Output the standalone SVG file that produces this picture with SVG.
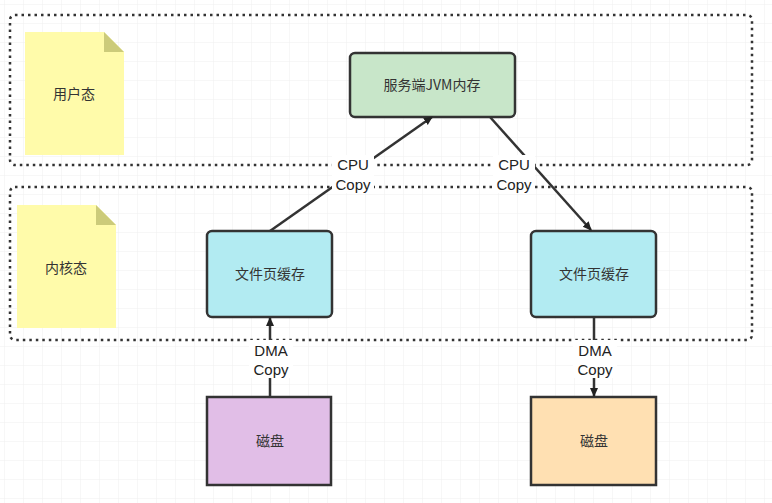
<svg xmlns="http://www.w3.org/2000/svg" width="772" height="503" viewBox="0 0 772 503">
<defs>
<pattern id="g" width="19" height="19" patternUnits="userSpaceOnUse" x="5" y="5"><path d="M19 0V19H0" fill="none" stroke="#efefef" stroke-width="1"/></pattern>
<marker id="a" markerWidth="10" markerHeight="10" refX="8" refY="5" orient="auto" markerUnits="userSpaceOnUse"><path d="M0 1L9 5L0 9Z" fill="#222"/></marker>
<style>
.z{fill:none;stroke:#333;stroke-width:2.5;stroke-dasharray:2.5 4}
.n{stroke:#333;stroke-width:2.5}
.t{font-family:"Noto Sans CJK SC","Liberation Sans",sans-serif;font-size:14px;fill:#333;text-anchor:middle}
.l{font-family:"Liberation Sans","Noto Sans CJK SC",sans-serif;font-size:15px;fill:#222;text-anchor:middle}
.e{stroke:#333;stroke-width:2.5;fill:none;marker-end:url(#a)}
</style>
</defs>
<rect width="772" height="503" fill="#fff"/>
<rect width="772" height="503" fill="url(#g)"/>
<g id="user"><rect class="z" x="10" y="15" width="742" height="150" rx="5"/></g>
<g id="kernel"><rect class="z" x="10" y="187" width="742" height="153" rx="5"/></g>
<g id="note1"><path d="M25 32H104L124 52V155H25Z" fill="#fffbaa"/><path d="M104 32L124 52H104Z" fill="#cccb7a"/><text class="t" x="74" y="99">用户态</text></g>
<g id="note2"><path d="M17 205H96L116 225V328H17Z" fill="#fffbaa"/><path d="M96 205L116 225H96Z" fill="#cccb7a"/><text class="t" x="66" y="273">内核态</text></g>
<g id="jvm"><rect class="n" x="350" y="53" width="165" height="64" rx="5" fill="#c8e6c9"/><text class="t" x="432" y="90">服务端JVM内存</text></g>
<g id="cache1"><rect class="n" x="207" y="231" width="125" height="86" rx="5" fill="#b2ebf2"/><text class="t" x="270" y="279">文件页缓存</text></g>
<g id="cache2"><rect class="n" x="531" y="231" width="125" height="86" rx="5" fill="#b2ebf2"/><text class="t" x="594" y="279">文件页缓存</text></g>
<g id="disk1"><rect class="n" x="207" y="397" width="124" height="88" rx="0" fill="#e1bee7"/><text class="t" x="270" y="446">磁盘</text></g>
<g id="disk2"><rect class="n" x="531" y="397" width="125" height="88" rx="0" fill="#ffe0b2"/><text class="t" x="594" y="446">磁盘</text></g>
<g id="connectors">
<path class="e" d="M270 231L432 117"/>
<path class="e" d="M490 117L591 230"/>
<path class="e" d="M270 397V318"/>
<path class="e" d="M594 317V396"/>
<rect x="332" y="155" width="42" height="38" fill="#fff"/>
<rect x="493" y="155" width="42" height="38" fill="#fff"/>
<rect x="249" y="340" width="44" height="38" fill="#fff"/>
<rect x="573" y="340" width="44" height="38" fill="#fff"/>
<text class="l" x="353" y="170">CPU</text><text class="l" x="353" y="190">Copy</text>
<text class="l" x="514" y="170">CPU</text><text class="l" x="514" y="190">Copy</text>
<text class="l" x="271" y="356">DMA</text><text class="l" x="271" y="375">Copy</text>
<text class="l" x="595" y="356">DMA</text><text class="l" x="595" y="375">Copy</text>
</g>
</svg>
